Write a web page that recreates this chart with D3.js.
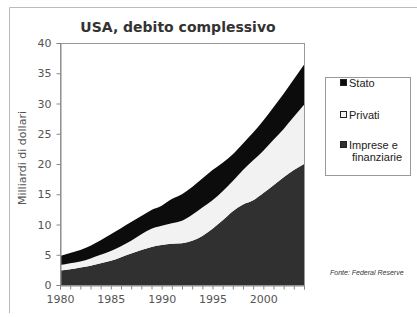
<!DOCTYPE html>
<html>
<head>
<meta charset="utf-8">
<script src="https://cdn.jsdelivr.net/npm/d3@7"></script>
<style>
  body { margin: 0; background: #fff; }
  svg { display: block; }
  .tick text { font-family: "DejaVu Sans", Verdana, sans-serif; font-size: 11px; fill: #555; }
</style>
</head>
<body>
<svg width="417" height="317"></svg>
<script>
const svg = d3.select('svg')

// data (migliaia di miliardi $)
const years = d3.range(1980, 2005)
const imprese = [2.4, 2.6, 2.9, 3.2, 3.6, 4.0, 4.6, 5.2, 5.8, 6.3, 6.6, 6.8, 6.9, 7.3, 8.1, 9.3, 10.7, 12.2, 13.3, 14.0, 15.2, 16.5, 17.8, 19.0, 20.0]
const privati = [0.9, 1.0, 1.0, 1.2, 1.4, 1.6, 1.8, 2.1, 2.6, 3.0, 3.2, 3.4, 3.7, 4.3, 4.7, 4.7, 4.8, 5.0, 5.7, 6.6, 7.0, 7.5, 8.0, 8.8, 9.8]
const stato = [1.5, 1.7, 1.9, 2.1, 2.4, 2.8, 3.0, 3.1, 3.0, 3.1, 3.3, 4.0, 4.4, 4.6, 4.8, 5.0, 4.7, 4.4, 4.4, 4.6, 5.0, 5.4, 5.8, 6.2, 6.6]
const yTicks = [0, 5, 10, 15, 20, 25, 30, 35, 40]
const xTicks = [1980, 1985, 1990, 1995, 2000]
const seriesKeys = ['imprese', 'privati', 'stato']
const seriesColors = {imprese: '#303030', privati: '#f2f2f2', stato: '#0c0c0c'}
const legendItems = [
  {key: 'stato', lines: ['Stato']},
  {key: 'privati', lines: ['Privati']},
  {key: 'imprese', lines: ['Imprese e', 'finanziarie']}
]

const rows = years.map((y, i) => ({year: y, imprese: imprese[i], privati: privati[i], stato: stato[i]}))

const plot = {left: 60, top: 43, right: 304, bottom: 285}

const x = d3.scaleLinear().domain([1980, 2004]).range([plot.left, plot.right])
const y = d3.scaleLinear().domain([0, 40]).range([plot.bottom, plot.top])

// outer frame
svg.append('path')
  .attr('d', 'M9.5,313 V7.5 H417')
  .attr('fill', 'none').attr('stroke', '#bbb')

// title
svg.append('text')
  .attr('x', 178).attr('y', 32)
  .attr('text-anchor', 'middle')
  .style('font-family', '"DejaVu Sans", Verdana, sans-serif')
  .style('font-weight', 'bold').style('font-size', '14px')
  .attr('fill', '#333')
  .text('USA, debito complessivo')

// stacked areas
const stack = d3.stack().keys(seriesKeys)
const layers = stack(rows)
const area = d3.area()
  .x(d => x(d.data.year))
  .y0(d => y(d[0]))
  .y1(d => y(d[1]))
  .curve(d3.curveMonotoneX)

svg.append('g').selectAll('path')
  .data(layers)
  .enter().append('path')
    .attr('d', area)
    .attr('fill', d => seriesColors[d.key])

// plot frame
svg.append('rect')
  .attr('x', plot.left + 0.5).attr('y', plot.top + 0.5)
  .attr('width', plot.right - plot.left).attr('height', plot.bottom - plot.top)
  .attr('fill', 'none').attr('stroke', '#999')

// y axis
const yAxis = svg.append('g')
  .attr('transform', `translate(${plot.left + 0.5},0)`)
  .call(d3.axisLeft(y).tickValues(yTicks).tickSize(4).tickPadding(5))
yAxis.select('.domain').attr('stroke', '#888')
yAxis.selectAll('.tick line').attr('stroke', '#888')

// x axis: yearly minor ticks, labels every 5
const xAxis = svg.append('g')
  .attr('transform', `translate(0,${plot.bottom + 0.5})`)
  .call(d3.axisBottom(x).tickValues(years).tickSize(4).tickPadding(6)
    .tickFormat(d => xTicks.includes(d) ? d : ''))
xAxis.select('.domain').attr('stroke', '#888')
xAxis.selectAll('.tick line').attr('stroke', '#888')

// y label
svg.append('text')
  .attr('transform', 'translate(26,158) rotate(-90)')
  .attr('text-anchor', 'middle')
  .style('font-family', '"DejaVu Sans", Verdana, sans-serif')
  .style('font-size', '11px')
  .attr('fill', '#555')
  .text('Milliardi di dollari')

// legend
const legend = svg.append('g')
legend.append('rect')
  .attr('x', 325.5).attr('y', 77.5).attr('width', 85).attr('height', 98)
  .attr('fill', '#fff').attr('stroke', '#999')

const legendY = [87, 119, 149]
legendItems.forEach((item, i) => {
  legend.append('rect')
    .attr('x', 340.5).attr('y', legendY[i] - 7.5)
    .attr('width', 6).attr('height', 6)
    .attr('fill', seriesColors[item.key])
    .attr('stroke', '#222')
  item.lines.forEach((line, j) => {
    legend.append('text')
      .attr('x', 349 + (j > 0 ? 3 : 0)).attr('y', legendY[i] + j * 12)
      .style('font-family', '"Liberation Sans", Arial, sans-serif')
      .style('font-size', '11px')
      .attr('fill', '#222')
      .text(line)
  })
})

// source
svg.append('text')
  .attr('x', 330).attr('y', 275)
  .style('font-family', '"Liberation Sans Narrow", "Liberation Sans", Arial, sans-serif')
  .style('font-style', 'italic')
  .style('font-size', '7px')
  .attr('fill', '#333')
  .text('Fonte: Federal Reserve')
</script>
</body>
</html>
